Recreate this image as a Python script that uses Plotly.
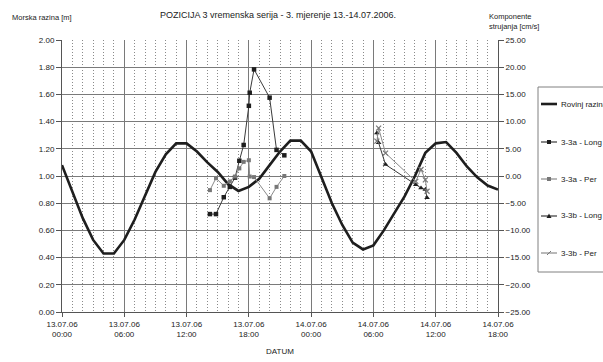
import pandas as pd
import plotly.graph_objects as go

# Sea level at Rovinj, hourly, 13.07.2006 00:00 - 14.07.2006 18:00 [m]
tide_start = "2006-07-13 00:00"
tide_level = [1.08, 0.89, 0.69, 0.53, 0.43, 0.43, 0.53, 0.68, 0.85, 1.03,
              1.16, 1.24, 1.24, 1.18, 1.10, 1.03, 0.94, 0.89, 0.92, 0.98,
              1.08, 1.18, 1.26, 1.26, 1.18, 0.99, 0.80, 0.64, 0.51, 0.46,
              0.49, 0.60, 0.72, 0.85, 1.00, 1.17, 1.24, 1.25, 1.17, 1.07,
              0.99, 0.93, 0.90]

# Current components, station 3-3a [cm/s]
t_3a = ["2006-07-13 14:15", "2006-07-13 14:50", "2006-07-13 15:35", "2006-07-13 16:10",
        "2006-07-13 16:40", "2006-07-13 17:05", "2006-07-13 17:30", "2006-07-13 18:00",
        "2006-07-13 18:05", "2006-07-13 18:30", "2006-07-13 20:00", "2006-07-13 20:40",
        "2006-07-13 21:25"]
long_3a = [-7.0, -7.0, -3.9, -2.0, -0.3, 2.8, 5.7, 12.9, 15.3, 19.6, 14.4, 4.8, 3.8]
per_3a = [-2.6, -0.4, -1.8, -1.0, -0.1, 1.4, 2.6, 2.9, -0.1, -0.2, -4.1, -2.0, 0.0]

# Current components, station 3-3b [cm/s]
t_3b = ["2006-07-14 06:20", "2006-07-14 06:30", "2006-07-14 07:10", "2006-07-14 10:05",
        "2006-07-14 10:35", "2006-07-14 11:00", "2006-07-14 11:10"]
long_3b = [7.9, 6.1, 2.1, -1.6, -2.2, -2.5, -4.0]
per_3b = [6.4, 8.8, 4.2, -1.0, 1.2, -0.7, -2.8]

# Axis tick labels
x_ticks = pd.date_range("2006-07-13 00:00", "2006-07-14 18:00", freq="6h")
x_tick_labels = ["13.07.06<br>00:00", "13.07.06<br>06:00", "13.07.06<br>12:00",
                 "13.07.06<br>18:00", "14.07.06<br>00:00", "14.07.06<br>06:00",
                 "14.07.06<br>12:00", "14.07.06<br>18:00"]

FONT = "Liberation Sans, Arial, sans-serif"
TXT = "#222222"
GRID = "#7a7a7a"
DARK = "#1e1e1e"
GREY = "#777777"

W, H = 603, 362
L, R, T, B = 62, 105, 40, 50
PW, PH = W - L - R, H - T - B


def px(x):
    return (x - L) / PW


def py(y):
    return (H - B - y) / PH


# Series styles: (name, y, line colour, line width, marker symbol, marker colour)
series = [
    dict(name="Rovinj razina", line=DARK, lw=2.6, sym=None, mc=None, size=0),
    dict(name="3-3a - Long", line="#3a3a3a", lw=1, sym="square", mc=DARK, size=4.5),
    dict(name="3-3a - Per", line="#8a8a8a", lw=1, sym="square", mc=GREY, size=4),
    dict(name="3-3b - Long", line="#3a3a3a", lw=1, sym="triangle-up", mc=DARK, size=5),
    dict(name="3-3b - Per", line="#8a8a8a", lw=1, sym="x-thin", mc=GREY, size=5),
]

tide_time = pd.date_range(tide_start, periods=len(tide_level), freq="h")
xs = [tide_time, pd.to_datetime(t_3a), pd.to_datetime(t_3a),
      pd.to_datetime(t_3b), pd.to_datetime(t_3b)]
ys = [tide_level, long_3a, per_3a, long_3b, per_3b]

fig = go.Figure()
for i, (s, x, y) in enumerate(zip(series, xs, ys)):
    if s["sym"] is None:
        fig.add_trace(go.Scatter(x=x, y=y, name=s["name"], mode="lines",
                                 line=dict(color=s["line"], width=s["lw"])))
    else:
        mk = dict(symbol=s["sym"], size=s["size"], color=s["mc"])
        if s["sym"].startswith("x"):
            mk["line"] = dict(color=s["mc"], width=1.2)
        fig.add_trace(go.Scatter(x=x, y=y, name=s["name"], yaxis="y2",
                                 mode="lines+markers",
                                 line=dict(color=s["line"], width=s["lw"]),
                                 marker=mk))

fig.update_layout(
    width=W, height=H,
    margin=dict(l=L, r=R, t=T, b=B, autoexpand=False),
    paper_bgcolor="white", plot_bgcolor="white",
    font=dict(family=FONT, size=8, color=TXT),
    showlegend=False,
    xaxis=dict(
        range=[x_ticks[0], x_ticks[-1]],
        tickmode="array", tickvals=x_ticks, ticktext=x_tick_labels,
        showgrid=True, gridcolor=GRID, gridwidth=1,
        showline=True, linecolor="#555555", linewidth=1,
        ticks="outside", ticklen=4, tickcolor="#555555",
        minor=dict(tick0=x_ticks[0], dtick=3600000, showgrid=True,
                   gridcolor="#8a8a8a", griddash="1px,2px", gridwidth=1),
        title=dict(text="DATUM", font=dict(size=8, color=TXT), standoff=10),
        zeroline=False, tickangle=0),
    yaxis=dict(
        range=[0, 2], dtick=0.2, tickformat=".2f",
        showgrid=True, gridcolor=GRID, gridwidth=1,
        showline=True, linecolor="#555555", linewidth=1,
        ticks="outside", ticklen=5, tickcolor="#555555",
        zeroline=False),
    yaxis2=dict(
        overlaying="y", side="right", range=[-25, 25], dtick=5,
        tickformat=".2f", showgrid=False,
        showline=True, linecolor="#555555", linewidth=1,
        ticks="outside", ticklen=5, tickcolor="#555555",
        zeroline=False),
)

# Titles
fig.add_annotation(text="POZICIJA 3 vremenska serija - 3. mjerenje 13.-14.07.2006.",
                   xref="paper", yref="paper", x=px(278), y=py(15),
                   xanchor="center", yanchor="middle",
                   showarrow=False, font=dict(size=9, color=TXT))
fig.add_annotation(text="Morska razina [m]", xref="paper", yref="paper",
                   x=px(10), y=py(17), xanchor="left", yanchor="middle",
                   showarrow=False, font=dict(size=7.5, color=TXT))
fig.add_annotation(text="Komponente<br>strujanja [cm/s]", xref="paper", yref="paper",
                   x=px(487), y=py(21), xanchor="left", yanchor="middle", align="left",
                   showarrow=False, font=dict(size=7.5, color=TXT))

# Legend box with a short key for each series
box_l, box_t, box_b = 538, 87, 272
fig.add_shape(type="rect", xref="paper", yref="paper",
              x0=px(box_l), x1=px(W + 20), y0=py(box_b), y1=py(box_t),
              line=dict(color="#808080", width=1), fillcolor="white", layer="above")
entry_y = [104, 142, 179, 216, 253]
for s, ey in zip(series, entry_y):
    fig.add_shape(type="line", xref="paper", yref="paper",
                  x0=px(541), x1=px(557), y0=py(ey), y1=py(ey),
                  line=dict(color=s["line"] if s["sym"] else DARK,
                            width=s["lw"] if s["sym"] is None else 1.2),
                  layer="above")
    if s["sym"] == "square":
        fig.add_shape(type="rect", xref="paper", yref="paper",
                      x0=px(547), x1=px(551), y0=py(ey + 2), y1=py(ey - 2),
                      line=dict(width=0), fillcolor=s["mc"], layer="above")
    elif s["sym"] == "triangle-up":
        fig.add_shape(type="path", xref="paper", yref="paper",
                      path=f"M {px(546.5)} {py(ey + 2)} L {px(551.5)} {py(ey + 2)} "
                           f"L {px(549)} {py(ey - 2.5)} Z",
                      line=dict(width=0), fillcolor=s["mc"], layer="above")
    elif s["sym"] == "x-thin":
        for a, b in ((-2, 2), (2, -2)):
            fig.add_shape(type="line", xref="paper", yref="paper",
                          x0=px(549 + a), x1=px(549 - a), y0=py(ey + b), y1=py(ey - b),
                          line=dict(color=s["mc"], width=1), layer="above")
    fig.add_annotation(text=s["name"], xref="paper", yref="paper",
                       x=px(559), y=py(ey), xanchor="left", yanchor="middle",
                       showarrow=False, font=dict(size=8, color=TXT))

fig.write_html("out.html")
